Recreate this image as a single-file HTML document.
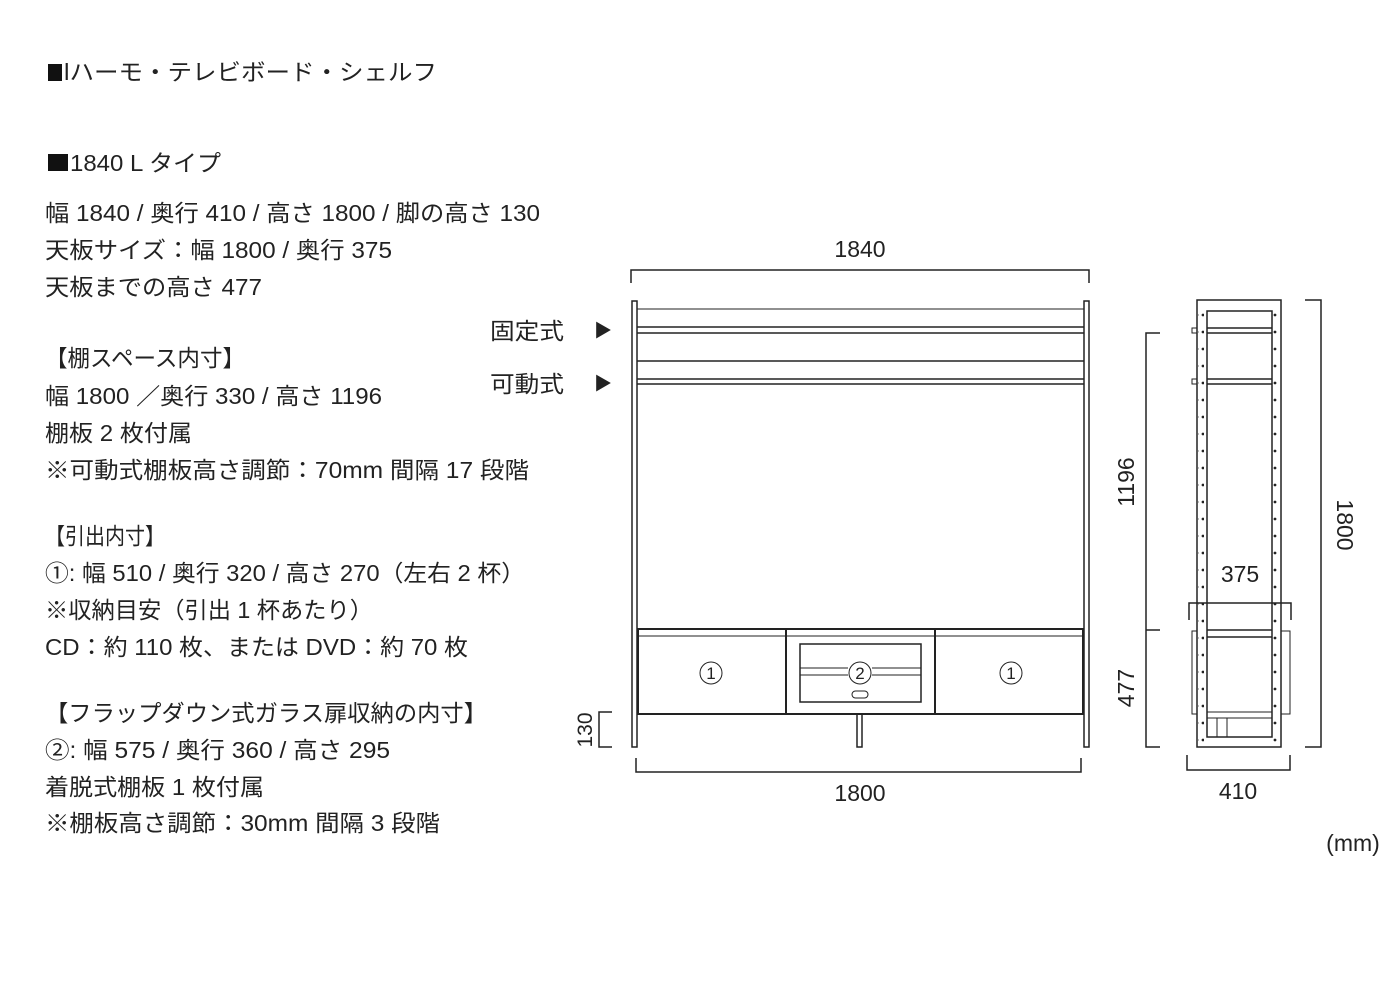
<!DOCTYPE html>
<html><head><meta charset="utf-8"><style>
html,body{margin:0;padding:0;background:#fff}
svg{display:block}
text{font-family:"Liberation Sans","Noto Sans CJK JP",sans-serif;fill:#222}
</style></head><body>
<svg width="1400" height="1000" viewBox="0 0 1400 1000" xmlns="http://www.w3.org/2000/svg">
<defs>
<pattern id="dots" x="0" y="312" width="6" height="17" patternUnits="userSpaceOnUse">
<circle cx="3" cy="3" r="1.4" fill="#222"/>
</pattern>
</defs>
<g font-size="23">
<rect x="48" y="64" width="14" height="17" fill="#111"/>
<text x="64" y="80" textLength="373" lengthAdjust="spacingAndGlyphs">lハーモ・テレビボード・シェルフ</text>
<rect x="48" y="154" width="20" height="17" fill="#111"/>
<text x="70" y="171" textLength="151" lengthAdjust="spacingAndGlyphs">1840 L タイプ</text>
<text x="45" y="221" textLength="495" lengthAdjust="spacingAndGlyphs">幅 1840 / 奥行 410 / 高さ 1800 / 脚の高さ 130</text>
<text x="45" y="258" textLength="347" lengthAdjust="spacingAndGlyphs">天板サイズ：幅 1800 / 奥行 375</text>
<text x="45" y="295" textLength="217" lengthAdjust="spacingAndGlyphs">天板までの高さ 477</text>
<text x="45" y="366" textLength="200" lengthAdjust="spacingAndGlyphs">【棚スペース内寸】</text>
<text x="45" y="404" textLength="337" lengthAdjust="spacingAndGlyphs">幅 1800 ／奥行 330 / 高さ 1196</text>
<text x="45" y="441" textLength="147" lengthAdjust="spacingAndGlyphs">棚板 2 枚付属</text>
<text x="45" y="478" textLength="484" lengthAdjust="spacingAndGlyphs">※可動式棚板高さ調節：70mm 間隔 17 段階</text>
<text x="45" y="544" textLength="120" lengthAdjust="spacingAndGlyphs">【引出内寸】</text>
<text x="45" y="581" textLength="480" lengthAdjust="spacingAndGlyphs">①: 幅 510 / 奥行 320 / 高さ 270（左右 2 杯）</text>
<text x="45" y="618" textLength="328" lengthAdjust="spacingAndGlyphs">※収納目安（引出 1 杯あたり）</text>
<text x="45" y="655" textLength="423" lengthAdjust="spacingAndGlyphs">CD：約 110 枚、または DVD：約 70 枚</text>
<text x="45" y="721" textLength="442" lengthAdjust="spacingAndGlyphs">【フラップダウン式ガラス扉収納の内寸】</text>
<text x="45" y="758" textLength="345" lengthAdjust="spacingAndGlyphs">②: 幅 575 / 奥行 360 / 高さ 295</text>
<text x="45" y="795" textLength="219" lengthAdjust="spacingAndGlyphs">着脱式棚板 1 枚付属</text>
<text x="45" y="831" textLength="395" lengthAdjust="spacingAndGlyphs">※棚板高さ調節：30mm 間隔 3 段階</text>
<text x="490" y="339" textLength="74" lengthAdjust="spacingAndGlyphs">固定式</text>
<text x="490" y="392" textLength="74" lengthAdjust="spacingAndGlyphs">可動式</text>
<text x="594" y="337" font-size="18">▶</text>
<text x="594" y="390" font-size="18">▶</text>
<text x="860" y="257" text-anchor="middle">1840</text>
<text x="860" y="801" text-anchor="middle">1800</text>
<text x="1240" y="582" text-anchor="middle">375</text>
<text x="1238" y="799" text-anchor="middle">410</text>
<text x="1353" y="851" text-anchor="middle">(mm)</text>
<text transform="translate(1134,482) rotate(-90)" text-anchor="middle">1196</text>
<text transform="translate(1134,688) rotate(-90)" text-anchor="middle">477</text>
<text transform="translate(1337,525) rotate(90)" text-anchor="middle">1800</text>
<text transform="translate(592,730) rotate(-90)" text-anchor="middle" font-size="21">130</text>
</g>
<g font-size="17" text-anchor="middle">
<text x="711" y="679">1</text>
<text x="860" y="679">2</text>
<text x="1011" y="679">1</text>
</g>
<g fill="none" stroke="#222" stroke-width="1.5">
<path d="M631 283V270H1089V283"/>
<rect x="632" y="301" width="5" height="446"/>
<rect x="1084" y="301" width="5" height="446"/>
<line x1="637" y1="309" x2="1084" y2="309" stroke-width="1"/>
<line x1="637" y1="327" x2="1084" y2="327"/>
<line x1="637" y1="333" x2="1084" y2="333"/>
<line x1="637" y1="361" x2="1084" y2="361"/>
<line x1="637" y1="379" x2="1084" y2="379"/>
<line x1="637" y1="384" x2="1084" y2="384"/>
<rect x="638" y="629" width="445" height="85" stroke-width="2"/>
<line x1="638" y1="636" x2="1083" y2="636" stroke-width="1"/>
<line x1="786" y1="629" x2="786" y2="714" stroke-width="2"/>
<line x1="935" y1="629" x2="935" y2="714" stroke-width="2"/>
<rect x="800" y="644" width="121" height="58"/>
<line x1="800" y1="668" x2="848" y2="668" stroke-width="1"/>
<line x1="800" y1="675" x2="848" y2="675" stroke-width="1"/>
<line x1="872" y1="668" x2="921" y2="668" stroke-width="1"/>
<line x1="872" y1="675" x2="921" y2="675" stroke-width="1"/>
<rect x="852" y="691" width="16" height="7" rx="3.5" stroke-width="1"/>
<circle cx="711" cy="673" r="11" stroke-width="1"/>
<circle cx="860" cy="673" r="11" stroke-width="1"/>
<circle cx="1011" cy="673" r="11" stroke-width="1"/>
<rect x="857" y="714" width="5" height="33"/>
<path d="M636 758V772H1081V758"/>
<path d="M612 712H599V747H612"/>
<rect x="1197" y="300" width="84" height="447"/>
<rect x="1207" y="311" width="65" height="426"/>
<line x1="1207" y1="328" x2="1272" y2="328"/>
<line x1="1207" y1="333" x2="1272" y2="333"/>
<line x1="1207" y1="379" x2="1272" y2="379"/>
<line x1="1207" y1="384" x2="1272" y2="384"/>
<rect x="1192" y="328" width="5" height="5" stroke-width="1"/>
<rect x="1192" y="379" width="5" height="5" stroke-width="1"/>
<line x1="1207" y1="630" x2="1272" y2="630"/>
<line x1="1207" y1="637" x2="1272" y2="637"/>
<line x1="1207" y1="712" x2="1272" y2="712" stroke-width="1"/>
<line x1="1207" y1="718" x2="1272" y2="718" stroke-width="1"/>
<path d="M1197 631H1192V714H1197M1281 631H1290V714H1281" stroke-width="1"/>
<line x1="1217" y1="718" x2="1217" y2="737" stroke-width="1"/>
<line x1="1227" y1="718" x2="1227" y2="737" stroke-width="1"/>
<path d="M1189 620V603H1291V620"/>
<path d="M1160 333H1146V747H1160M1146 630H1160"/>
<path d="M1305 300H1321V747H1305"/>
<path d="M1187 755V770H1290V755"/>
</g>
<rect x="1198" y="309" width="6" height="434" fill="url(#dots)"/>
<rect x="1273" y="309" width="6" height="434" fill="url(#dots)"/>
</svg>
</body></html>
